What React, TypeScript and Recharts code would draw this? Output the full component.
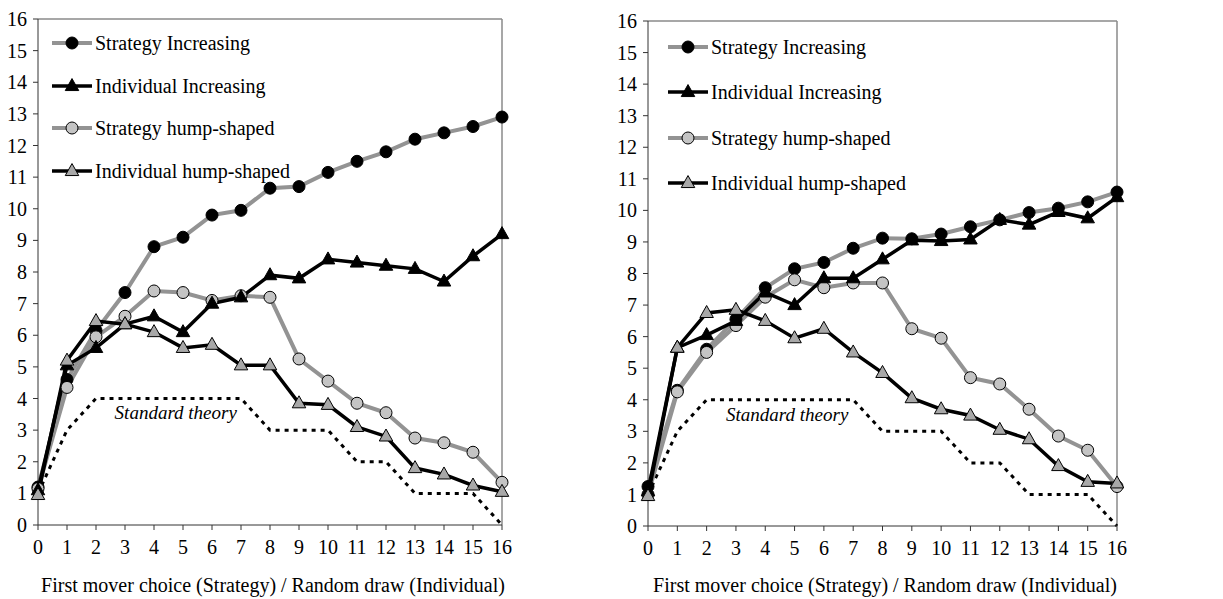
import { Line, LineChart, ReferenceLine, XAxis, YAxis } from "recharts";

const FONT = '"Liberation Serif", "Times New Roman", serif';
const GRAY_LINE = "#939393";
const LIGHT_FILL = "#c4c4c4";
const TRI_FILL = "#a8a8a8";

const choices = [0, 1, 2, 3, 4, 5, 6, 7, 8, 9, 10, 11, 12, 13, 14, 15, 16];
const yTicks = [0, 1, 2, 3, 4, 5, 6, 7, 8, 9, 10, 11, 12, 13, 14, 15, 16];
const standardTheory = [1, 3, 4, 4, 4, 4, 4, 4, 3, 3, 3, 2, 2, 1, 1, 1, 0];

// left panel
const leftStrategyIncreasing = [1.2, 4.6, 6.15, 7.35, 8.8, 9.1, 9.8, 9.95, 10.65, 10.7, 11.15, 11.5, 11.8, 12.2, 12.4, 12.6, 12.9];
const leftIndividualIncreasing = [1.1, 5.05, 5.6, 6.35, 6.6, 6.1, 7.0, 7.2, 7.9, 7.8, 8.4, 8.3, 8.2, 8.1, 7.7, 8.5, 9.2];
const leftStrategyHump = [1.15, 4.35, 5.95, 6.6, 7.4, 7.35, 7.1, 7.25, 7.2, 5.25, 4.55, 3.85, 3.55, 2.75, 2.6, 2.3, 1.35];
const leftIndividualHump = [0.95, 5.2, 6.45, 6.35, 6.1, 5.6, 5.7, 5.05, 5.05, 3.85, 3.8, 3.1, 2.8, 1.8, 1.6, 1.25, 1.05];

// right panel
const rightStrategyIncreasing = [1.25, 4.3, 5.6, 6.55, 7.55, 8.15, 8.35, 8.8, 9.12, 9.1, 9.25, 9.48, 9.7, 9.93, 10.07, 10.27, 10.58];
const rightIndividualIncreasing = [1.1, 5.65, 6.05, 6.5, 7.4, 7.0, 7.85, 7.85, 8.45, 9.05, 9.03, 9.08, 9.7, 9.55, 9.95, 9.75, 10.42];
const rightStrategyHump = [1.0, 4.25, 5.5, 6.35, 7.25, 7.8, 7.55, 7.7, 7.7, 6.25, 5.95, 4.7, 4.5, 3.7, 2.85, 2.4, 1.25];
const rightIndividualHump = [0.95, 5.65, 6.75, 6.85, 6.5, 5.95, 6.25, 5.5, 4.85, 4.05, 3.7, 3.5, 3.05, 2.75, 1.9, 1.4, 1.35];

type Shape = "circle" | "triangle";

interface SeriesDef {
  key: string;
  name: string;
  stroke: string;
  width: number;
  shape: Shape;
  fill: string;
}

const seriesDefs: SeriesDef[] = [
  { key: "si", name: "Strategy Increasing", stroke: GRAY_LINE, width: 4, shape: "circle", fill: "#000" },
  { key: "ii", name: "Individual Increasing", stroke: "#000", width: 3.5, shape: "triangle", fill: "#000" },
  { key: "sh", name: "Strategy hump-shaped", stroke: GRAY_LINE, width: 4, shape: "circle", fill: LIGHT_FILL },
  { key: "ih", name: "Individual hump-shaped", stroke: "#000", width: 3.5, shape: "triangle", fill: TRI_FILL },
];

// drawing order (later on top)
const drawOrder = ["si", "sh", "ii", "ih"];

function Marker({ cx, cy, shape, fill }: { cx: number; cy: number; shape: Shape; fill: string }) {
  if (cx == null || cy == null) return null;
  if (shape === "circle") {
    return <circle cx={cx} cy={cy} r={6} fill={fill} stroke="#000" strokeWidth={1} />;
  }
  const h = 12;
  const w = 13.5;
  const pts = `${cx},${cy - h * 0.62} ${cx - w / 2},${cy + h * 0.38} ${cx + w / 2},${cy + h * 0.38}`;
  return <polygon points={pts} fill={fill} stroke="#000" strokeWidth={1} />;
}

function buildRows(si: number[], ii: number[], sh: number[], ih: number[]) {
  return choices.map((x, i) => ({
    x,
    si: si[i],
    ii: ii[i],
    sh: sh[i],
    ih: ih[i],
    st: standardTheory[i],
  }));
}

function LegendBox({ left, top, rowGap }: { left: number; top: number; rowGap: number }) {
  return (
    <div style={{ position: "absolute", left, top, fontFamily: FONT, fontSize: 20, color: "#000" }}>
      {seriesDefs.map((s) => (
        <div key={s.key} style={{ display: "flex", alignItems: "center", height: rowGap }}>
          <svg width={40} height={16} style={{ marginRight: 3 }}>
            <line x1={0} y1={8} x2={40} y2={8} stroke={s.stroke} strokeWidth={s.width} />
            <Marker cx={20} cy={8} shape={s.shape} fill={s.fill} />
          </svg>
          <span style={{ whiteSpace: "nowrap", lineHeight: 1 }}>{s.name}</span>
        </div>
      ))}
    </div>
  );
}

interface PanelProps {
  left: number;
  width: number;
  top: number;
  rightMargin: number;
  bottomMargin: number;
  rows: ReturnType<typeof buildRows>;
  legendLeft: number;
  legendTop: number;
  legendGap: number;
  labelX: number;
  labelY: number;
}

function Panel(p: PanelProps) {
  return (
    <div style={{ position: "absolute", left: p.left, top: 0, width: p.width, height: 599 }}>
      <LineChart
        width={p.width}
        height={599}
        data={p.rows}
        margin={{ top: p.top, right: p.rightMargin, bottom: p.bottomMargin, left: 0 }}
      >
        <XAxis
          dataKey="x"
          type="number"
          domain={[0, 16]}
          ticks={choices}
          interval={0}
          height={30}
          tickSize={5}
          tickMargin={10}
          stroke="#333"
          tick={{ fontSize: 20, fontFamily: FONT, fill: "#000" }}
        />
        <YAxis
          type="number"
          domain={[0, 16]}
          ticks={yTicks}
          interval={0}
          width={38}
          tickSize={5}
          tickMargin={6}
          stroke="#333"
          tick={{ fontSize: 20, fontFamily: FONT, fill: "#000" }}
        />
        <ReferenceLine y={16} stroke="#8a8a8a" strokeWidth={1.5} />
        <ReferenceLine x={16} stroke="#8a8a8a" strokeWidth={1.5} />
        <ReferenceLine
          segment={[
            { x: 4.75, y: 3.55 },
            { x: 4.75, y: 3.55 },
          ]}
          stroke="none"
          label={{
            value: "Standard theory",
            position: "center",
            fontFamily: FONT,
            fontSize: 19,
            fontStyle: "italic",
            fill: "#000",
          }}
        />
        <Line
          dataKey="st"
          stroke="#000"
          strokeWidth={3}
          strokeDasharray="4 5"
          dot={false}
          activeDot={false}
          isAnimationActive={false}
          legendType="none"
        />
        {drawOrder.map((k) => {
          const s = seriesDefs.find((d) => d.key === k)!;
          return (
            <Line
              key={s.key}
              dataKey={s.key}
              name={s.name}
              stroke={s.stroke}
              strokeWidth={s.width}
              isAnimationActive={false}
              activeDot={false}
              dot={(props: any) => (
                <Marker key={`${s.key}-${props.index}`} cx={props.cx} cy={props.cy} shape={s.shape} fill={s.fill} />
              )}
            />
          );
        })}
      </LineChart>
      <LegendBox left={p.legendLeft} top={p.legendTop} rowGap={p.legendGap} />
      <div
        style={{
          position: "absolute",
          left: p.labelX - 300,
          width: 600,
          top: p.labelY - 12,
          textAlign: "center",
          fontFamily: FONT,
          fontSize: 20,
          lineHeight: "24px",
          color: "#000",
          whiteSpace: "nowrap",
        }}
      >
        First mover choice (Strategy) / Random draw (Individual)
      </div>
    </div>
  );
}

export default function App() {
  const leftRows = buildRows(leftStrategyIncreasing, leftIndividualIncreasing, leftStrategyHump, leftIndividualHump);
  const rightRows = buildRows(rightStrategyIncreasing, rightIndividualIncreasing, rightStrategyHump, rightIndividualHump);
  return (
    <div style={{ position: "absolute", left: 0, top: 0, width: 1223, height: 599, background: "#fff", overflow: "hidden" }}>
      <Panel
        left={0}
        width={620}
        top={19}
        rightMargin={118}
        bottomMargin={44}
        rows={leftRows}
        legendLeft={52}
        legendTop={22}
        legendGap={42.5}
        labelX={273}
        labelY={585}
      />
      <Panel
        left={610}
        width={613}
        top={21}
        rightMargin={106}
        bottomMargin={43}
        rows={rightRows}
        legendLeft={58}
        legendTop={24}
        legendGap={45.5}
        labelX={275}
        labelY={585}
      />
    </div>
  );
}
